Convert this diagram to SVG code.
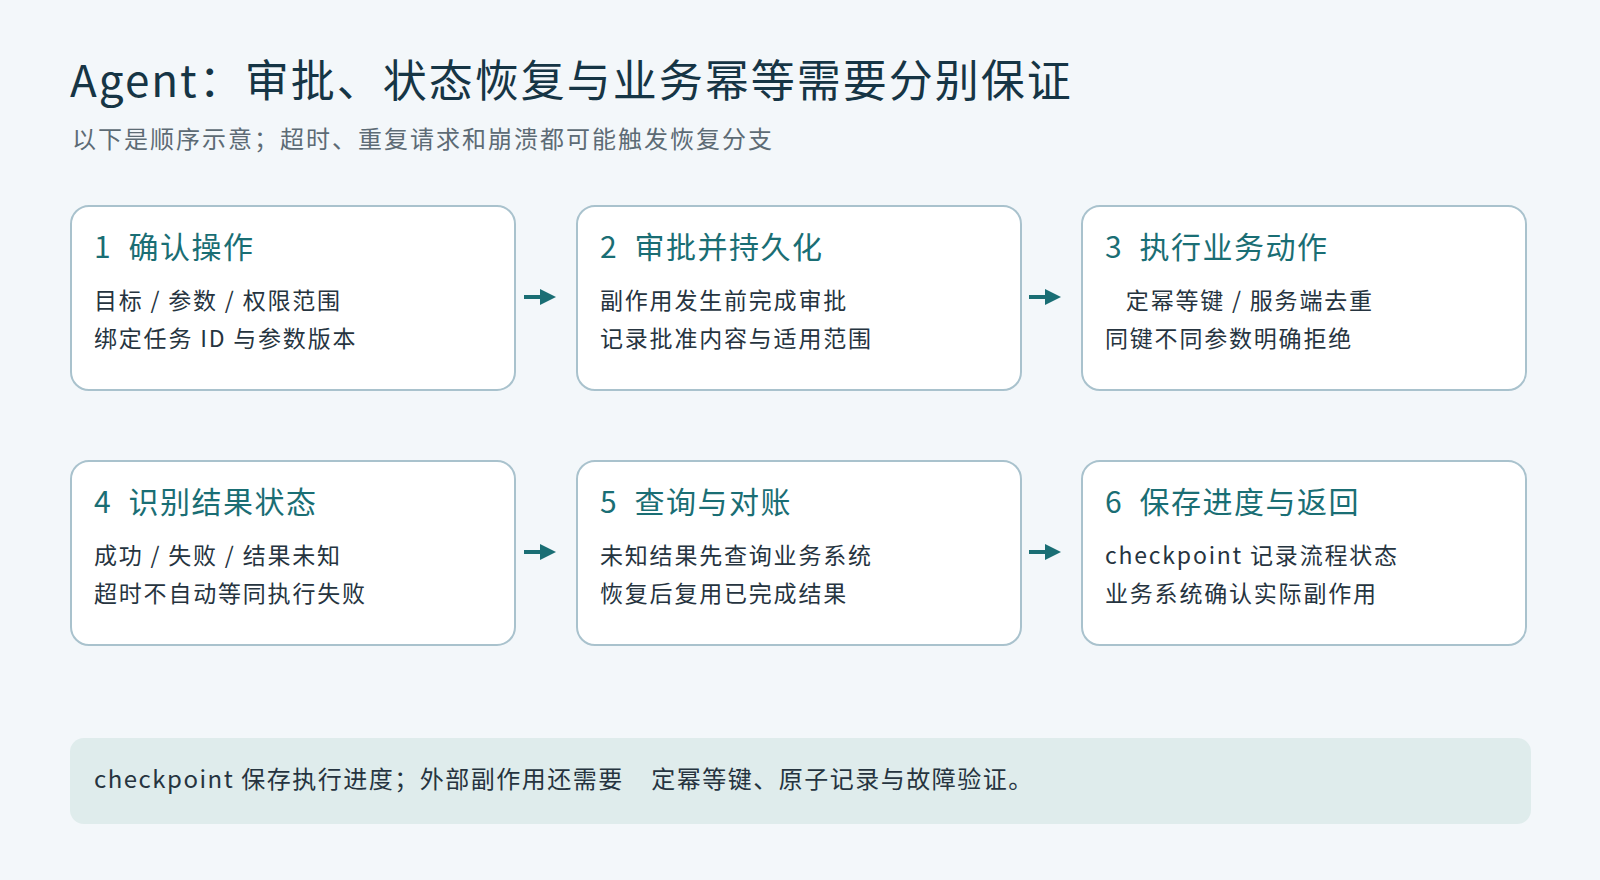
<svg xmlns="http://www.w3.org/2000/svg" width="1600" height="880" viewBox="0 0 1600 880">
<style>
text{font-family:"Noto Sans CJK SC","Noto Sans",sans-serif;white-space:pre}
.card{fill:#fff;stroke:#a9c2cd;stroke-width:2}
.ct{font-size:30px;fill:#1a6e74;letter-spacing:1.5px}
.cl{font-size:23px;fill:#26343f;letter-spacing:1.8px}
.ar{stroke:#1a6e74;stroke-width:4}
</style>
<defs><marker id="ah" markerWidth="4" markerHeight="4" refX="3" refY="2" orient="auto"><path d="M0,0L4,2L0,4z" fill="#1a6e74"/></marker></defs>
<rect width="1600" height="880" fill="#f3f7fa"/>
<text x="70" y="97" font-size="44" fill="#163545" letter-spacing="2">Agent：审批、状态恢复与业务幂等需要分别保证</text>
<text x="72" y="148" font-size="24" fill="#5d6b75" letter-spacing="2">以下是顺序示意；超时、重复请求和崩溃都可能触发恢复分支</text>
<g id="n1"><rect class="card" x="71" y="206" width="444" height="184" rx="18"/><text class="ct" x="94" y="258">1  确认操作</text><text class="cl" x="94" y="309">目标 / 参数 / 权限范围</text><text class="cl" x="94" y="347">绑定任务 ID 与参数版本</text></g>
<g id="n2"><rect class="card" x="577" y="206" width="444" height="184" rx="18"/><text class="ct" x="600" y="258">2  审批并持久化</text><text class="cl" x="600" y="309">副作用发生前完成审批</text><text class="cl" x="600" y="347">记录批准内容与适用范围</text></g>
<g id="n3"><rect class="card" x="1082" y="206" width="444" height="184" rx="18"/><text class="ct" x="1105" y="258">3  执行业务动作</text><text class="cl" x="1105" y="309">   定幂等键 / 服务端去重</text><text class="cl" x="1105" y="347">同键不同参数明确拒绝</text></g>
<g id="n4"><rect class="card" x="71" y="461" width="444" height="184" rx="18"/><text class="ct" x="94" y="513">4  识别结果状态</text><text class="cl" x="94" y="564">成功 / 失败 / 结果未知</text><text class="cl" x="94" y="602">超时不自动等同执行失败</text></g>
<g id="n5"><rect class="card" x="577" y="461" width="444" height="184" rx="18"/><text class="ct" x="600" y="513">5  查询与对账</text><text class="cl" x="600" y="564">未知结果先查询业务系统</text><text class="cl" x="600" y="602">恢复后复用已完成结果</text></g>
<g id="n6"><rect class="card" x="1082" y="461" width="444" height="184" rx="18"/><text class="ct" x="1105" y="513">6  保存进度与返回</text><text class="cl" x="1105" y="564">checkpoint 记录流程状态</text><text class="cl" x="1105" y="602">业务系统确认实际副作用</text></g>
<g id="connectors">
<line class="ar" x1="524" y1="297" x2="552" y2="297" marker-end="url(#ah)"/>
<line class="ar" x1="1029" y1="297" x2="1057" y2="297" marker-end="url(#ah)"/>
<line class="ar" x1="524" y1="552" x2="552" y2="552" marker-end="url(#ah)"/>
<line class="ar" x1="1029" y1="552" x2="1057" y2="552" marker-end="url(#ah)"/>
</g>
<g id="note"><rect x="70" y="738" width="1461" height="86" rx="14" fill="#dfecec"/>
<text x="94" y="788" font-size="24" fill="#26343f" letter-spacing="1.5">checkpoint 保存执行进度；外部副作用还需要    定幂等键、原子记录与故障验证。</text></g>
</svg>
